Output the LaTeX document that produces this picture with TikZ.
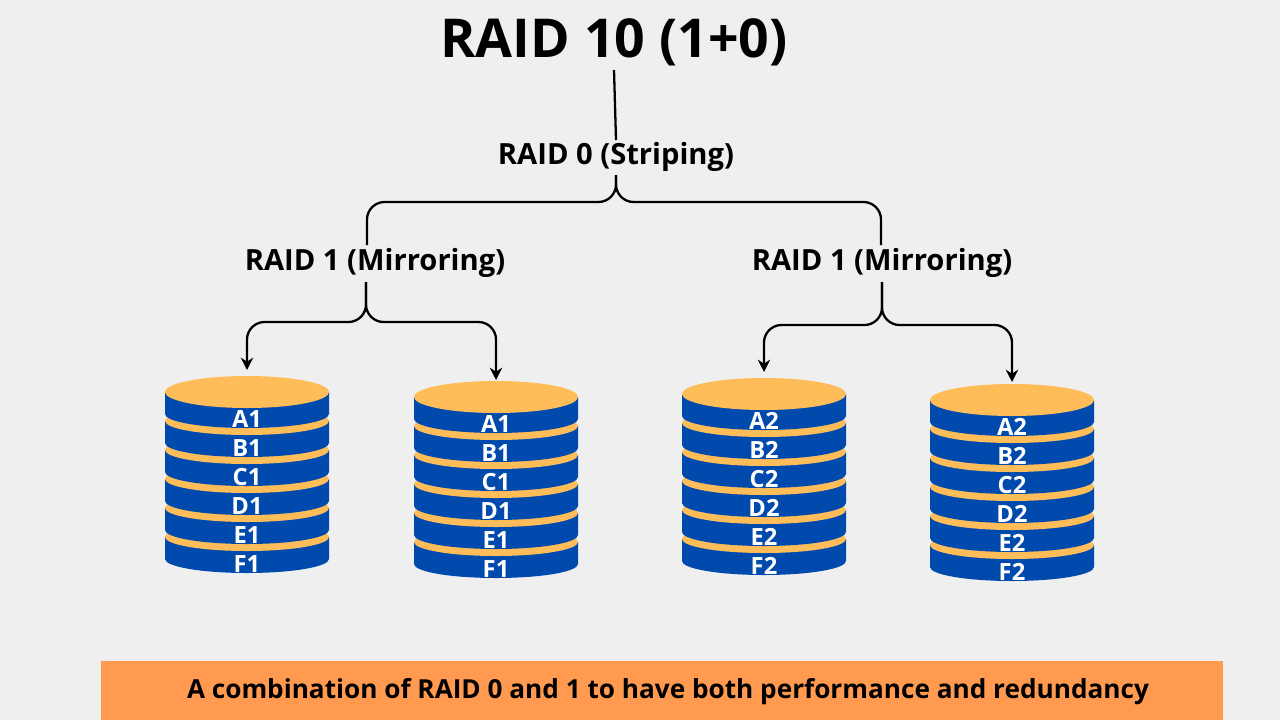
\documentclass[tikz,border=0pt]{standalone}
\usepackage{fontspec}
\setmainfont{Open Sans}
\usetikzlibrary{arrows.meta}
\definecolor{bg}{HTML}{EFEFEF}
\definecolor{diskblue}{HTML}{004AAD}
\definecolor{diskgold}{HTML}{FFBD59}
\definecolor{banner}{HTML}{FF9A50}
\tikzset{
  lbl/.style={font=\bfseries\fontsize{16.6}{20}\selectfont},
  disklbl/.style={font=\bfseries\fontsize{13.5}{15}\selectfont, text=white},
  link/.style={line width=1.3pt, rounded corners=10},
  arr/.style={link, -{Stealth[length=7,width=7]}}
}
% one disk stack: #1 centre x, #2 top y, #3 suffix
\newcommand{\diskstack}[3]{%
  \foreach \L [count=\i from 0] in {F,E,D,C,B,A} {
    \pgfmathsetmacro{\yt}{#2+29*(5-\i)}
    \fill[diskblue] (#1-82,\yt) -- (#1-82,\yt+22) arc[start angle=180,end angle=0,x radius=82,y radius=14] -- (#1+82,\yt) -- cycle;
    \fill[diskgold] (#1,\yt) ellipse[x radius=82, y radius=14];
  }
  \fill[diskgold] (#1,#2) ellipse[x radius=82, y radius=16];
  \foreach \L [count=\i from 0] in {A,B,C,D,E,F}
    \node[disklbl] at (#1,#2+27+29*\i) {\L#3};
}
\begin{document}
\begin{tikzpicture}[x=0.02cm,y=-0.02cm]
\fill[bg] (0,0) rectangle (1280,720);
\useasboundingbox (0,0) rectangle (1280,720);

\node[font=\bfseries\fontsize{30.5}{36}\selectfont] (title) at (614,42) {RAID 10 (1+0)};
\node[lbl] (raid0) at (616,157) {RAID 0 (Striping)};
\node[lbl] (left1) at (375,263) {RAID 1 (Mirroring)};
\node[lbl] (right1) at (882,263) {RAID 1 (Mirroring)};

\coordinate (d1) at (247,370);
\coordinate (d2) at (496,380);
\coordinate (d3) at (764,372);
\coordinate (d4) at (1012,382);

\draw[link] (614,70) -- (616,140);
\draw[link] (616,175) -- (616,202) -| (367,245);
\draw[link] (616,175) -- (616,202) -| (881,245);
\draw[arr] (366,282) -- (366,322) -| (d1);
\draw[arr] (366,282) -- (366,322) -| (d2);
\draw[arr] (882,282) -- (882,325) -| (d3);
\draw[arr] (882,282) -- (882,325) -| (d4);

\diskstack{247}{392}{1}
\diskstack{496}{397}{1}
\diskstack{764}{394}{2}
\diskstack{1012}{400}{2}

\fill[banner] (101,661) rectangle (1223,720);
\node[font=\bfseries\fontsize{14.9}{18}\selectfont] (note) at (668,692) {A combination of RAID 0 and 1 to have both performance and redundancy};
\end{tikzpicture}
\end{document}
